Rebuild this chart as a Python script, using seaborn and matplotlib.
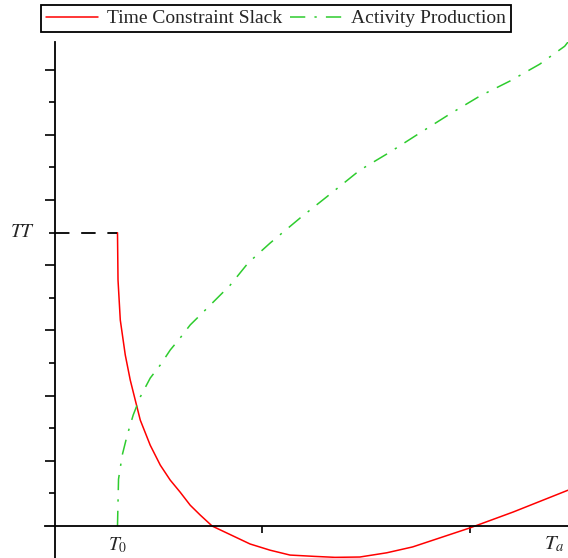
import numpy as np
import pandas as pd
import seaborn as sns
import matplotlib.pyplot as plt

# --- data (x in T units, y in tick units) ---
T0 = 0.6
TT = 9.0

slack_x = [0.600, 0.605, 0.627, 0.675, 0.723, 0.771, 0.820, 0.916, 1.013, 1.109,
           1.205, 1.302, 1.398, 1.514, 1.880, 2.073, 2.266, 2.500, 2.700, 2.940,
           3.200, 3.450, 4.000, 4.420, 4.950]
slack_y = [9.00, 7.55, 6.32, 5.25, 4.48, 3.87, 3.25, 2.48, 1.87, 1.41,
           1.04, 0.64, 0.34, 0.00, -0.55, -0.74, -0.89, -0.93, -0.96, -0.95,
           -0.82, -0.64, -0.06, 0.43, 1.10]

prod_x = [0.600, 0.610, 0.646, 0.694, 0.752, 0.820, 0.916, 1.013, 1.109, 1.205,
          1.302, 1.398, 1.543, 1.688, 1.861, 2.073, 2.363, 2.652, 2.941, 3.230,
          3.520, 3.809, 4.098, 4.388, 4.677, 4.918, 4.950]
prod_y = [0.00, 1.44, 2.18, 2.79, 3.41, 3.96, 4.54, 4.94, 5.40, 5.77,
          6.17, 6.47, 6.93, 7.39, 8.07, 8.68, 9.45, 10.18, 10.92, 11.47,
          12.06, 12.64, 13.19, 13.65, 14.17, 14.72, 14.85]

series_names = ["Time Constraint Slack", "Activity Production"]

df = pd.concat([
    pd.DataFrame({"x": slack_x, "y": slack_y, "series": series_names[0]}),
    pd.DataFrame({"x": prod_x, "y": prod_y, "series": series_names[1]}),
])

sns.set_style("white")
plt.rcParams["font.family"] = ["Liberation Serif", "DejaVu Serif"]
plt.rcParams["mathtext.fontset"] = "stix"

fig = plt.figure(figsize=(5.68, 5.58), dpi=100)
ax = fig.add_axes([45 / 568, 0, 523 / 568, 516 / 558])

sns.lineplot(data=df, x="x", y="y", hue="series", style="series",
             palette={series_names[0]: "#ff0000", series_names[1]: "#2ecc2e"},
             dashes={series_names[0]: "", series_names[1]: (10, 6, 1.5, 6)},
             sort=False, estimator=None, linewidth=1.1, ax=ax)

# dashed guide from the axis to the start of the slack curve
ax.plot([0, T0], [TT, TT], color="black", lw=1.3, dashes=(8, 6.5))

ax.set_xlim(-0.1, 4.95)
ax.set_ylim(-0.98, 14.85)

# axes through the origin
for side in ["top", "right"]:
    ax.spines[side].set_visible(False)
ax.spines["left"].set_position(("data", 0))
ax.spines["bottom"].set_position(("data", 0))
for side in ["left", "bottom"]:
    ax.spines[side].set_color("black")
    ax.spines[side].set_linewidth(1.3)

ax.set_xticks([2, 4], labels=[])
ax.set_yticks(np.arange(2, 15, 2), labels=[])
ax.set_yticks(np.arange(1, 14, 2), minor=True)
ax.tick_params(axis="x", which="major", direction="out", length=5, width=1.2,
               color="black", bottom=True)
ax.tick_params(axis="y", which="major", direction="out", length=7.2, width=1.2,
               color="black", left=True)
ax.tick_params(axis="y", which="minor", direction="out", length=4.3, width=1.2,
               color="black", left=True)
ax.set_xlabel("")
ax.set_ylabel("")

ax.text(-0.32, TT, "$TT$", fontsize=14, ha="center", va="center", clip_on=False)
ax.text(T0, -0.58, r"$T_\mathit{0}$", fontsize=14, ha="center", va="center",
        clip_on=False)
ax.text(4.82, -0.55, "$T_a$", fontsize=15, ha="center", va="center", clip_on=False)

sns.move_legend(ax, "upper left", bbox_to_anchor=(41 / 568, 1 - 5 / 558),
                bbox_transform=fig.transFigure, ncol=2, title=None,
                frameon=True, fancybox=False, edgecolor="black", framealpha=1,
                fontsize=14, handlelength=2.7, handletextpad=0.45,
                columnspacing=0.4, borderpad=0.25, borderaxespad=0)
ax.get_legend().get_frame().set_linewidth(1.3)

fig.savefig("out.png", dpi=100)
